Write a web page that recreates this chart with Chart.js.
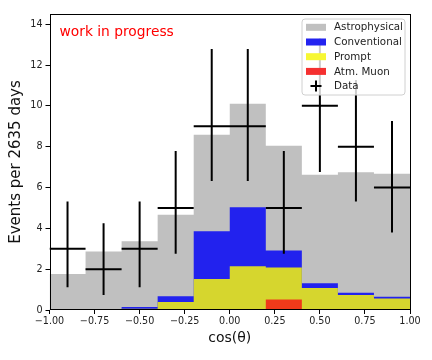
<!DOCTYPE html>
<html>
<head>
<meta charset="utf-8">
<script src="https://cdn.jsdelivr.net/npm/chart.js@4/dist/chart.umd.min.js"></script>
<style>
html,body{margin:0;padding:0;background:#fff;}
#wrap{width:432px;height:360px;position:relative;}
</style>
</head>
<body>
<div id="wrap"><canvas id="c" width="432" height="360"></canvas></div>
<script>
// Bin edges (left edges of 10 bins, width 0.2)
const binEdges = [-1.0, -0.8, -0.6, -0.4, -0.2, 0.0, 0.2, 0.4, 0.6, 0.8, 1.0];
// Stacked cumulative heights per bin
const totalAstro   = [1.76, 2.86, 3.37, 4.66, 8.58, 10.1, 8.04, 6.62, 6.75, 6.68];
const cumConv      = [0.02, 0.05, 0.15, 0.67, 3.86, 5.03, 2.92, 1.31, 0.85, 0.65];
const cumPrompt    = [0.01, 0.02, 0.06, 0.39, 1.52, 2.14, 2.08, 1.08, 0.74, 0.56];
const atmMuon      = [0.0, 0.0, 0.0, 0.0, 0.0, 0.0, 0.52, 0.05, 0.0, 0.0];
// Data points with error bars
const dataVals     = [3, 2, 3, 5, 9, 9, 5, 10, 8, 6];
const errLow       = [1.11, 0.74, 1.11, 2.75, 6.32, 6.32, 2.75, 6.76, 5.31, 3.80];
const errHigh      = [5.31, 4.25, 5.31, 7.79, 12.78, 12.78, 7.79, 13.3, 11.27, 9.26];
// Ticks
const xTicks = [-1.0, -0.75, -0.5, -0.25, 0.0, 0.25, 0.5, 0.75, 1.0];
const yTicks = [0, 2, 4, 6, 8, 10, 12, 14];
const legendLabels = ['Astrophysical', 'Conventional', 'Prompt', 'Atm. Muon', 'Data'];
const colors = {astro:'#c0c0c0', conv:'#2222ee', prompt:'#d6d62e', muon:'#f03a1a'};
const legendColors = ['#c0c0c0', '#2323f0', '#f7f733', '#f53030'];

function stepPoints(vals){
  const pts = vals.map((v,i)=>({x: binEdges[i], y: v}));
  pts.push({x: binEdges[binEdges.length-1], y: vals[vals.length-1]});
  return pts;
}
function crossPoints(){
  const pts = [];
  dataVals.forEach((v,i)=>{
    const l = binEdges[i], r = binEdges[i+1], c = (l+r)/2;
    pts.push({x:l, y:v}, {x:r, y:v}, {x:c, y:null});
    pts.push({x:c, y:errLow[i]}, {x:c, y:errHigh[i]}, {x:c, y:null});
  });
  return pts;
}
const FONT = 'DejaVu Sans';
function histDs(label, vals, color, order){
  return {label, data: stepPoints(vals), stepped: true, fill: 'origin',
    backgroundColor: color, borderColor: color, borderWidth: 0,
    pointRadius: 0, order};
}

const framePlugin = {
  id: 'frame',
  afterDatasetsDraw(chart){
    const {ctx, chartArea:a} = chart;
    ctx.save();
    ctx.strokeStyle = '#000';
    ctx.lineWidth = 1;
    ctx.strokeRect(Math.round(a.left)+0.5, Math.round(a.top)+0.5, Math.round(a.right-a.left)-1, Math.round(a.bottom-a.top)-1);
    ctx.restore();
  },
  afterDraw(chart){
    const {ctx, chartArea:a} = chart;
    ctx.save();
    // work in progress
    ctx.fillStyle = '#ff0000';
    ctx.font = '13.8px "' + FONT + '"';
    ctx.textBaseline = 'alphabetic';
    ctx.textAlign = 'left';
    ctx.fillText('work in progress', a.left + 10, a.top + 21.5);
    // legend box
    const bx = 302, by = 19, bw = 103, bh = 76, r = 3;
    ctx.beginPath();
    ctx.moveTo(bx+r, by);
    ctx.arcTo(bx+bw, by, bx+bw, by+bh, r);
    ctx.arcTo(bx+bw, by+bh, bx, by+bh, r);
    ctx.arcTo(bx, by+bh, bx, by, r);
    ctx.arcTo(bx, by, bx+bw, by, r);
    ctx.closePath();
    ctx.fillStyle = 'rgba(255,255,255,0.8)';
    ctx.fill();
    ctx.strokeStyle = '#d0d0d0';
    ctx.lineWidth = 1;
    ctx.stroke();
    ctx.font = '10.3px "' + FONT + '"';
    ctx.textBaseline = 'middle';
    legendLabels.forEach((lab,i)=>{
      const cy = 27.3 + i*14.7;
      if (i < 4){
        ctx.fillStyle = legendColors[i];
        ctx.fillRect(306, cy-3.5, 20, 7);
      } else {
        ctx.strokeStyle = '#000';
        ctx.lineWidth = 2;
        ctx.beginPath();
        ctx.moveTo(310.5, cy); ctx.lineTo(321.5, cy);
        ctx.moveTo(316, cy-5.5); ctx.lineTo(316, cy+5.5);
        ctx.stroke();
      }
      ctx.fillStyle = '#222';
      ctx.fillText(lab, 334, cy+0.5);
    });
    ctx.restore();
  }
};

const fmtX = v => (v < 0 ? '\u2212' : '') + Math.abs(v).toFixed(2);

new Chart(document.getElementById('c'), {
  type: 'line',
  data: {
    datasets: [
      {label:'Data', data: crossPoints(), borderColor:'#000', borderWidth:2, pointRadius:0,
       fill:false, spanGaps:false, order:0},
      histDs('Atm. Muon', atmMuon, colors.muon, 1),
      histDs('Prompt', cumPrompt, colors.prompt, 2),
      histDs('Conventional', cumConv, colors.conv, 3),
      histDs('Astrophysical', totalAstro, colors.astro, 4)
    ]
  },
  options: {
    responsive: false,
    animation: false,
    devicePixelRatio: 1,
    layout: {padding: {left: 0, right: 22, top: 14, bottom: 0}},
    plugins: {legend:{display:false}, tooltip:{enabled:false}},
    scales: {
      x: {
        type: 'linear', min: -1, max: 1,
        afterBuildTicks: s => { s.ticks = xTicks.map(v=>({value:v})); },
        afterFit: s => { s.height = 50; },
        border: {display:false},
        grid: {drawOnChartArea:false, tickLength:4, color:'#000', lineWidth:1},
        ticks: {callback: fmtX, color:'#222', font:{family:FONT, size:9.6}, padding:2, maxRotation:0, autoSkip:false},
        title: {display:true, text:'cos(θ)', color:'#111', font:{family:FONT, size:14}, padding:{top:0, bottom:13}}
      },
      y: {
        type: 'linear', min: 0, max: 14.5,
        afterBuildTicks: s => { s.ticks = yTicks.map(v=>({value:v})); },
        afterFit: s => { s.width = 49.5; },
        border: {display:false},
        grid: {drawOnChartArea:false, tickLength:4, color:'#000', lineWidth:1},
        ticks: {color:'#222', font:{family:FONT, size:9.6}, padding:3},
        title: {display:true, text:'Events per 2635 days', color:'#111', font:{family:FONT, size:15}, padding:{top:7.5, bottom:0}}
      }
    }
  },
  plugins: [framePlugin]
});
</script>
</body>
</html>
